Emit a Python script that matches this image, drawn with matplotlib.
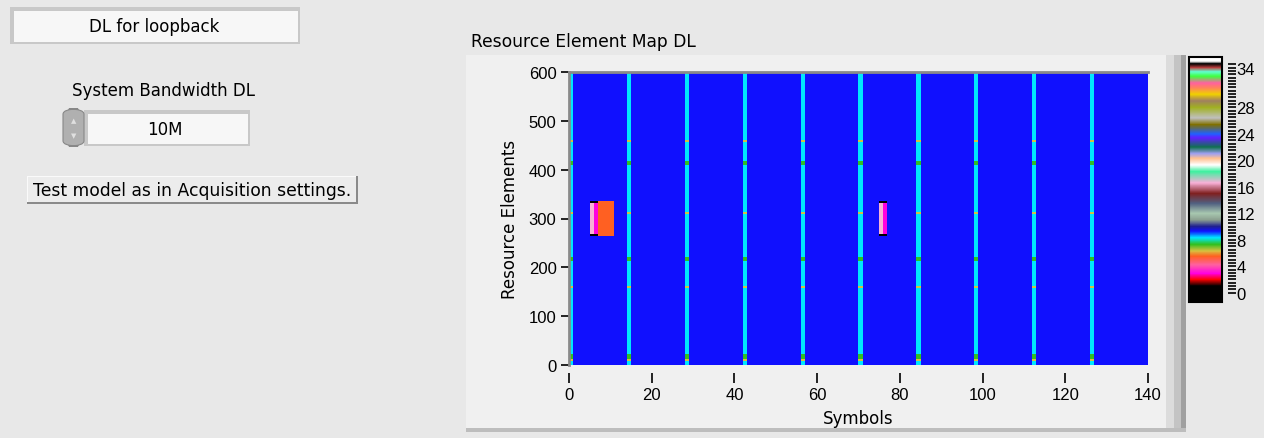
import numpy as np
import matplotlib
matplotlib.use("Agg")
import matplotlib.pyplot as plt
from matplotlib.colors import LinearSegmentedColormap, Normalize
from matplotlib.patches import Rectangle, FancyBboxPatch

# ---- data -------------------------------------------------------------
N_SC = 600          # subcarriers (10 MHz, 50 RB)
N_SYM = 140         # OFDM symbols (one frame)

background_level = 9.3
pdcch_syms = [0, 14, 28, 42, 56, 70, 84, 98, 112, 126]
pdcch_level = 8.3
phich_rows = [(8, 12), (157, 161), (309, 313), (457, 461)]
phich_level = 6.3
pcfich_rows = [(12, 22), (212, 221), (410, 418)]
pcfich_level = 7.3
sss_syms = [5, 75]
pss_syms = [6, 76]
sss_level = 16.6
pss_level = 2.9
sync_rows = (269, 331)
guard_rows = [(264, 269), (331, 336)]
guard_level = 0.0
pbch_syms = [7, 8, 9, 10]
pbch_rows = (264, 336)
pbch_level = 5.5

# colour scale (value, colour)
cmap_vals = [-1.4, 1.0, 1.5, 2.0, 2.9, 4.2, 5.5, 6.3, 7.3, 8.3, 9.3, 10.0,
             11.0, 12.0, 13.5, 15.0, 16.6, 18.3, 19.3, 20.3, 21.0, 22.0,
             23.4, 24.0, 25.4, 26.4, 28.0, 29.0, 30.0, 31.0, 31.7, 32.7,
             33.4, 34.0, 34.6, 35.0, 35.6]
cmap_cols = ["#000000", "#000000", "#800000", "#ff0000", "#ff00e0", "#ff60a0",
             "#ff6020", "#d8c040", "#30c020", "#00e8ff", "#1010ff", "#202090",
             "#8ca090", "#a8c8b0", "#506080", "#802020", "#f8b0d8", "#40f0a0",
             "#ffffff", "#ffc090", "#a0a0f0", "#107050", "#6020ff", "#2060ff",
             "#807000", "#c0c0c0", "#a0b020", "#a08060", "#f0d000", "#ff8060",
             "#ff60a0", "#40ff40", "#60ffd0", "#c04040", "#000000", "#ffffff",
             "#ffffff"]
cb_ticks = [0, 4, 8, 12, 16, 20, 24, 28, 34]

# ---- build grid -------------------------------------------------------
grid = np.full((N_SC, N_SYM), background_level)
for s in pdcch_syms:
    grid[:, s] = pdcch_level
    for a, b in pcfich_rows:
        grid[a:b, s] = pcfich_level
    for a, b in phich_rows:
        grid[a:b, s] = phich_level
for s in sss_syms:
    grid[sync_rows[0]:sync_rows[1], s] = sss_level
for s in pss_syms:
    grid[sync_rows[0]:sync_rows[1], s] = pss_level
for s in sss_syms + pss_syms:
    for a, b in guard_rows:
        grid[a:b, s] = guard_level
for s in pbch_syms:
    grid[pbch_rows[0]:pbch_rows[1], s] = pbch_level

vmin, vmax = cmap_vals[0], cmap_vals[-1]
cmap = LinearSegmentedColormap.from_list(
    "lv", [((v - vmin) / (vmax - vmin), c) for v, c in zip(cmap_vals, cmap_cols)],
    N=1024)
norm = Normalize(vmin=vmin, vmax=vmax)

# ---- figure -----------------------------------------------------------
W, H = 1264, 439
BG = "#e8e8e8"
fig = plt.figure(figsize=(W / 100, H / 100), dpi=100, facecolor=BG)


def box(x, y, w, h):
    # pixel box (top-left origin) -> figure fractions
    return (x / W, 1 - (y + h) / H, w / W, h / H)


def rect(x, y, w, h, fc, ec="none", lw=0, z=-5):
    l, b, ww, hh = box(x, y, w, h)
    fig.patches.append(Rectangle((l, b), ww, hh, transform=fig.transFigure,
                                 facecolor=fc, edgecolor=ec, linewidth=lw,
                                 zorder=z))


LBL = ["DejaVu Sans"]
NUM = ["Liberation Sans", "DejaVu Sans"]

# left controls
rect(10, 8, 290, 37, "#c8c8c8")
rect(14, 12, 284, 31, "#f7f7f7")
fig.text(154 / W, 1 - 27 / H, "DL for loopback", ha="center", va="center",
         fontsize=12, family=LBL)

fig.text(163 / W, 1 - 91 / H, "System Bandwidth DL", ha="center",
         va="center", fontsize=12, family=LBL)
l, b, ww, hh = box(63, 110, 21, 37)
fig.patches.append(FancyBboxPatch((l, b), ww, hh, transform=fig.transFigure,
                                  boxstyle="round,pad=0,rounding_size=0.012",
                                  facecolor="#b0b0b0", edgecolor="#888888",
                                  linewidth=0.8, zorder=-4))
fig.text(73.5 / W, 1 - 121 / H, "\u25b2", ha="center", va="center",
         fontsize=5, color="#e0e0e0")
fig.text(73.5 / W, 1 - 136 / H, "\u25bc", ha="center", va="center",
         fontsize=5, color="#e0e0e0")
rect(84, 111, 166, 36, "#c8c8c8")
rect(88, 115, 160, 30, "#f7f7f7")
fig.text(165 / W, 1 - 130 / H, "10M", ha="center", va="center",
         fontsize=12, family=LBL)

rect(27, 177, 331, 28, "#8a8a8a")
rect(27, 177, 329, 26, "#fafafa")
rect(28, 178, 328, 25, "#ececec")
fig.text(192 / W, 1 - 191 / H, "Test model as in Acquisition settings.",
         ha="center", va="center", fontsize=12.3, family=LBL)

# graph panel
rect(466, 56, 720, 377, "#f0f0f0")
rect(1166, 56, 20, 377, "#dcdcdc")
rect(1174, 56, 12, 377, "#c4c4c4")
rect(1181, 56, 5, 377, "#a0a0a0")
rect(466, 429, 720, 4, "#bdbdbd")
fig.text(471 / W, 1 - 42 / H, "Resource Element Map DL", ha="left",
         va="center", fontsize=12.3, family=LBL)

ax = fig.add_axes(box(569, 73, 579, 293))
ax.set_facecolor("none")
im = ax.imshow(grid, cmap=cmap, norm=norm, origin="lower", aspect="auto",
               interpolation="nearest", extent=(0, N_SYM, 0, N_SC))
ax.set_xlim(0, N_SYM)
ax.set_ylim(0, N_SC)
ax.set_xticks(np.arange(0, 141, 20))
ax.set_yticks(np.arange(0, 601, 100))
for side in ["top", "left"]:
    ax.spines[side].set_color("#8a8a8a")
    ax.spines[side].set_linewidth(2)
for side in ["bottom", "right"]:
    ax.spines[side].set_visible(False)
ax.spines["bottom"].set_position(("outward", 6))
ax.tick_params(axis="x", direction="out", length=7, width=1.2,
               labelsize=12, pad=3)
ax.tick_params(axis="y", direction="out", length=6, width=1.2,
               labelsize=12, pad=3)
for t in ax.get_xticklabels() + ax.get_yticklabels():
    t.set_family(NUM)
ax.set_xlabel("Symbols", fontsize=12, family=LBL, labelpad=5)
ax.set_ylabel("Resource Elements", fontsize=12, family=LBL, labelpad=7)

# colour ramp
cax = fig.add_axes(box(1189, 58, 33, 245))
cb = fig.colorbar(im, cax=cax)
cb.outline.set_linewidth(1.5)
cb.set_ticks(cb_ticks)
cb.ax.set_yticks(np.arange(0, 34.6, 0.5), minor=True)
cb.ax.spines["right"].set_position(("outward", 4))
cb.ax.tick_params(which="both", direction="out", length=6, width=1.2,
                  labelsize=12, pad=0.5)
for t in cb.ax.get_yticklabels():
    t.set_family(NUM)

fig.savefig("out.png", dpi=100, facecolor=BG)
